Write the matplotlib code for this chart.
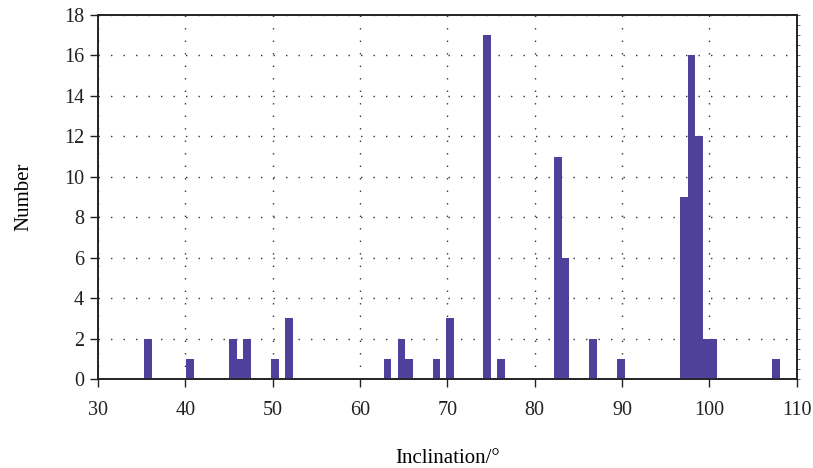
import numpy as np
import matplotlib.pyplot as plt
from matplotlib.ticker import MultipleLocator

# bar centres (inclination, deg) and counts
inclination = [35.7, 40.5, 45.45, 46.1, 47.05, 50.25, 51.85,
               63.15, 64.75, 65.6, 68.75, 70.35, 74.5, 76.1,
               82.65, 83.45, 86.65, 89.85,
               97.1, 97.95, 98.8, 99.6, 100.4, 107.65]
counts = [2, 1, 2, 1, 2, 1, 3,
          1, 2, 1, 1, 3, 17, 1,
          11, 6, 2, 1,
          9, 16, 12, 2, 2, 1]

bar_color = '#4F409C'

plt.rcParams['font.family'] = ['Liberation Serif', 'DejaVu Serif']

fig = plt.figure(figsize=(8.13, 4.68), dpi=100)
ax = fig.add_axes([0.1205, 0.19, 0.8595, 0.778])

ax.bar(inclination, counts, width=0.9, color=bar_color, zorder=3)

ax.set_xlim(30, 110)
ax.set_ylim(0, 18)
ax.set_xticks(np.arange(30, 111, 10))
ax.set_yticks(np.arange(0, 19, 2))
ax.grid(True, color='#333333', linestyle=(0, (1, 8)), linewidth=1.0, zorder=1)

ax.tick_params(axis='both', direction='out', length=6, width=1.0,
               labelsize=14.5, colors='#222222')
ax.tick_params(axis='x', pad=10)
ax.tick_params(axis='y', pad=4)

# tiny ticks along the right spine
ax2 = ax.twinx()
ax2.set_ylim(0, 18)
ax2.yaxis.set_major_locator(MultipleLocator(0.5))
ax2.tick_params(axis='y', direction='out', length=2, width=0.6, labelright=False, colors='#555555')

for a in (ax, ax2):
    for sp in a.spines.values():
        sp.set_linewidth(1.2)
        sp.set_color('#222222')

ax.set_xlabel('Inclination/°', fontsize=15, labelpad=21)
ax.set_ylabel('Number', fontsize=15, labelpad=22)

plt.savefig('out.png', dpi=100)
